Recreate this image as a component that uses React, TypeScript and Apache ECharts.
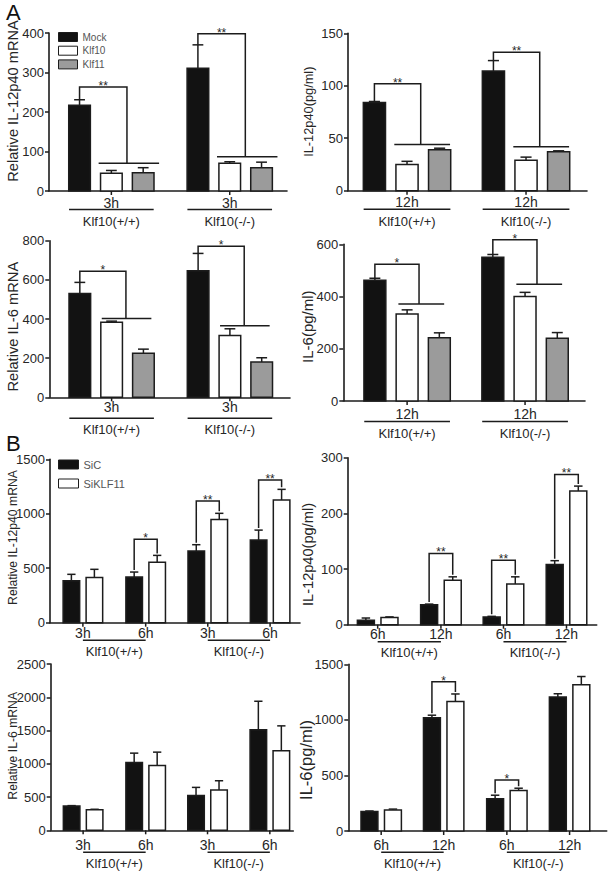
import { useEffect, useRef } from 'react';
import * as echarts from 'echarts';

// ---------------- Panel A : Mock / Klf10 / Klf11 ----------------
const aConditions = ['Mock', 'Klf10', 'Klf11'];
const genotypes = ['Klf10(+/+)', 'Klf10(-/-)'];

const a1Times = ['3h', '3h'];
const a1Mock = [217, 311];
const a1MockErr = [14, 59];
const a1Klf10 = [45, 70];
const a1Klf10Err = [7, 4];
const a1Klf11 = [46, 59];
const a1Klf11Err = [13, 14];
const a1BracketTop = [263, 398];
const a1BracketLow = [70, 87];
const a1Stars = ['**', '**'];

const a2Times = ['12h', '12h'];
const a2Mock = [84, 114];
const a2MockErr = [1, 10];
const a2Klf10 = [25, 29];
const a2Klf10Err = [3, 3];
const a2Klf11 = [39, 37];
const a2Klf11Err = [1.5, 1];
const a2BracketTop = [102, 132];
const a2BracketLow = [44, 42];
const a2Stars = ['**', '**'];

const a3Times = ['3h', '3h'];
const a3Mock = [530, 646];
const a3MockErr = [57, 89];
const a3Klf10 = [383, 316];
const a3Klf10Err = [6, 34];
const a3Klf11 = [225, 180];
const a3Klf11Err = [21, 22];
const a3BracketTop = [644, 772];
const a3BracketLow = [403, 365];
const a3Stars = ['*', '*'];

const a4Times = ['12h', '12h'];
const a4Mock = [462, 550];
const a4MockErr = [8, 11];
const a4Klf10 = [333, 400];
const a4Klf10Err = [16, 16];
const a4Klf11 = [242, 240];
const a4Klf11Err = [19, 22];
const a4BracketTop = [524, 617];
const a4BracketLow = [371, 447];
const a4Stars = ['*', '*'];

// ---------------- Panel B : SiC / SiKLF11 ----------------
const bConditions = ['SiC', 'SiKLF11'];

const b1Times = ['3h', '6h', '3h', '6h'];
const b1SiC = [385, 419, 658, 759];
const b1SiCErr = [59, 46, 58, 91];
const b1SiKLF11 = [416, 554, 948, 1126];
const b1SiKLF11Err = [74, 64, 56, 98];
const b1BracketGroups = [1, 2, 3];
const b1BracketTop = [765, 1117, 1309];
const b1Stars = ['*', '**', '**'];

const b2Times = ['6h', '12h', '6h', '12h'];
const b2SiC = [8, 36, 14, 108];
const b2SiCErr = [4, 1, 1, 7];
const b2SiKLF11 = [13, 80, 73, 240];
const b2SiKLF11Err = [1, 6, 13, 9];
const b2BracketGroups = [1, 2, 3];
const b2BracketTop = [128, 116, 270];
const b2Stars = ['**', '**', '**'];

const b3Times = ['3h', '6h', '3h', '6h'];
const b3SiC = [365, 1020, 525, 1510];
const b3SiCErr = [6, 140, 120, 430];
const b3SiKLF11 = [308, 975, 605, 1195];
const b3SiKLF11Err = [8, 200, 140, 375];
const b3BracketGroups: number[] = [];
const b3BracketTop: number[] = [];
const b3Stars: string[] = [];

const b4Times = ['6h', '12h', '6h', '12h'];
const b4SiC = [175, 1020, 290, 1205];
const b4SiCErr = [5, 22, 32, 30];
const b4SiKLF11 = [190, 1165, 365, 1315];
const b4SiKLF11Err = [7, 68, 20, 75];
const b4BracketGroups = [1, 2];
const b4BracketTop = [1343, 459];
const b4Stars = ['*', '*'];

// ---------------- styling ----------------
const FONT = 'Liberation Sans';
const INK = '#1c1c1c';
const TEXT = '#262626';
const FILL: Record<string, string> = {
  Mock: '#121212',
  Klf10: '#ffffff',
  Klf11: '#9b9b9b',
  SiC: '#121212',
  SiKLF11: '#ffffff',
};

type SeriesDef = { name: string; mean: number[]; err: number[] };
type PanelDef = {
  kind: 'A' | 'B';
  grid: { left: number; top: number; width: number; height: number };
  xMax: number;
  centers: number[];
  yMax: number;
  yInterval: number;
  yName: string;
  namePos: number[];
  nameSize: number;
  series: SeriesDef[];
  times: string[];
  bracketGroups: number[];
  bracketTop: number[];
  bracketLow: number[];
  stars: string[];
  rightLeg: number;
  lowRange: number[];
  lab: { time: number; line: number; geno: number };
};

const panels: PanelDef[] = [
  {
    kind: 'A',
    grid: { left: 49, top: 33, width: 238, height: 158 },
    xMax: 7.48, centers: [1.96, 5.68],
    yMax: 400, yInterval: 100, yName: 'Relative IL-12p40 mRNA', namePos: [13, 101], nameSize: 14.6,
    series: [
      { name: aConditions[0], mean: a1Mock, err: a1MockErr },
      { name: aConditions[1], mean: a1Klf10, err: a1Klf10Err },
      { name: aConditions[2], mean: a1Klf11, err: a1Klf11Err },
    ],
    times: a1Times, bracketGroups: [0, 1], bracketTop: a1BracketTop, bracketLow: a1BracketLow, stars: a1Stars,
    rightLeg: 0.49, lowRange: [-0.4, 1.5],
    lab: { time: 11.5, line: 18.5, geno: 30.5 },
  },
  {
    kind: 'A',
    grid: { left: 348, top: 33.3, width: 239, height: 157.4 },
    xMax: 7.33, centers: [1.81, 5.46],
    yMax: 150, yInterval: 50, yName: 'IL-12p40(pg/ml)', namePos: [308, 111.7], nameSize: 12.8,
    series: [
      { name: aConditions[0], mean: a2Mock, err: a2MockErr },
      { name: aConditions[1], mean: a2Klf10, err: a2Klf10Err },
      { name: aConditions[2], mean: a2Klf11, err: a2Klf11Err },
    ],
    times: a2Times, bracketGroups: [0, 1], bracketTop: a2BracketTop, bracketLow: a2BracketLow, stars: a2Stars,
    rightLeg: 0.42, lowRange: [-0.39, 1.32],
    lab: { time: 11, line: 18.5, geno: 31 },
  },
  {
    kind: 'A',
    grid: { left: 49.3, top: 240.7, width: 240.7, height: 156.6 },
    xMax: 7.57, centers: [1.96, 5.68],
    yMax: 800, yInterval: 200, yName: 'Relative IL-6 mRNA', namePos: [13.3, 326.7], nameSize: 14.7,
    series: [
      { name: aConditions[0], mean: a3Mock, err: a3MockErr },
      { name: aConditions[1], mean: a3Klf10, err: a3Klf10Err },
      { name: aConditions[2], mean: a3Klf11, err: a3Klf11Err },
    ],
    times: a3Times, bracketGroups: [0, 1], bracketTop: a3BracketTop, bracketLow: a3BracketLow, stars: a3Stars,
    rightLeg: 0.45, lowRange: [-0.31, 1.25],
    lab: { time: 10, line: 21, geno: 32 },
  },
  {
    kind: 'A',
    grid: { left: 343.3, top: 244.3, width: 241.7, height: 156.7 },
    xMax: 7.5, centers: [1.98, 5.64],
    yMax: 600, yInterval: 200, yName: 'IL-6(pg/ml)', namePos: [307.5, 326.7], nameSize: 15,
    series: [
      { name: aConditions[0], mean: a4Mock, err: a4MockErr },
      { name: aConditions[1], mean: a4Klf10, err: a4Klf10Err },
      { name: aConditions[2], mean: a4Klf11, err: a4Klf11Err },
    ],
    times: a4Times, bracketGroups: [0, 1], bracketTop: a4BracketTop, bracketLow: a4BracketLow, stars: a4Stars,
    rightLeg: 0.37, lowRange: [-0.27, 1.15],
    lab: { time: 12.5, line: 20.5, geno: 32 },
  },
  {
    kind: 'B',
    grid: { left: 50, top: 459.3, width: 250, height: 163.4 },
    xMax: 10.87, centers: [1.43, 4.16, 6.86, 9.57],
    yMax: 1500, yInterval: 500, yName: 'Relative IL-12p40 mRNA', namePos: [13.3, 537.5], nameSize: 12.2,
    series: [
      { name: bConditions[0], mean: b1SiC, err: b1SiCErr },
      { name: bConditions[1], mean: b1SiKLF11, err: b1SiKLF11Err },
    ],
    times: b1Times, bracketGroups: b1BracketGroups, bracketTop: b1BracketTop, bracketLow: [], stars: b1Stars,
    rightLeg: 0, lowRange: [0, 0],
    lab: { time: 10.5, line: 17.5, geno: 29 },
  },
  {
    kind: 'B',
    grid: { left: 347.7, top: 457.7, width: 249, height: 167 },
    xMax: 10.55, centers: [1.27, 3.95, 6.6, 9.27],
    yMax: 300, yInterval: 100, yName: 'IL-12p40(pg/ml)', namePos: [307.5, 554.5], nameSize: 14.6,
    series: [
      { name: bConditions[0], mean: b2SiC, err: b2SiCErr },
      { name: bConditions[1], mean: b2SiKLF11, err: b2SiKLF11Err },
    ],
    times: b2Times, bracketGroups: b2BracketGroups, bracketTop: b2BracketTop, bracketLow: [], stars: b2Stars,
    rightLeg: 0, lowRange: [0, 0],
    lab: { time: 9.5, line: 17, geno: 27.5 },
  },
  {
    kind: 'B',
    grid: { left: 50.7, top: 664, width: 242.6, height: 166.3 },
    xMax: 10.55, centers: [1.41, 4.13, 6.82, 9.53],
    yMax: 2500, yInterval: 500, yName: 'Relative IL-6 mRNA', namePos: [13.3, 745.8], nameSize: 12.2,
    series: [
      { name: bConditions[0], mean: b3SiC, err: b3SiCErr },
      { name: bConditions[1], mean: b3SiKLF11, err: b3SiKLF11Err },
    ],
    times: b3Times, bracketGroups: b3BracketGroups, bracketTop: b3BracketTop, bracketLow: [], stars: b3Stars,
    rightLeg: 0, lowRange: [0, 0],
    lab: { time: 15, line: 22, geno: 33 },
  },
  {
    kind: 'B',
    grid: { left: 348.3, top: 664.3, width: 258.4, height: 166.7 },
    xMax: 11, centers: [1.4, 4.06, 6.75, 9.42],
    yMax: 1500, yInterval: 500, yName: 'IL-6(pg/ml)', namePos: [306, 760], nameSize: 16.5,
    series: [
      { name: bConditions[0], mean: b4SiC, err: b4SiCErr },
      { name: bConditions[1], mean: b4SiKLF11, err: b4SiKLF11Err },
    ],
    times: b4Times, bracketGroups: b4BracketGroups, bracketTop: b4BracketTop, bracketLow: [], stars: b4Stars,
    rightLeg: 0, lowRange: [0, 0],
    lab: { time: 14, line: 21.3, geno: 32.3 },
  },
];

function txt(text: string, x: number, y: number, size: number, color = TEXT) {
  return {
    type: 'text',
    style: {
      text, x, y, fill: color, fontSize: size, fontFamily: FONT,
      align: 'center', verticalAlign: 'middle', textAlign: 'center', textVerticalAlign: 'middle',
    },
  };
}
function ln(x1: number, y1: number, x2: number, y2: number, w = 1.5) {
  return { type: 'line', shape: { x1, y1, x2, y2 }, style: { stroke: INK, lineWidth: w } };
}

function buildOption() {
  const grid: any[] = [];
  const xAxis: any[] = [];
  const yAxis: any[] = [];
  const series: any[] = [];
  const graphic: any[] = [
    { type: 'text', left: 6, top: 1, style: { text: 'A', fontSize: 22, fill: '#111', fontFamily: FONT } },
    { type: 'text', left: 6, top: 432, style: { text: 'B', fontSize: 22, fill: '#111', fontFamily: FONT } },
  ];

  panels.forEach((p, i) => {
    grid.push({ left: p.grid.left, top: p.grid.top, width: p.grid.width, height: p.grid.height });
    xAxis.push({
      type: 'value', gridIndex: i, min: 0, max: p.xMax,
      axisLine: { show: true, lineStyle: { color: INK, width: 1.6 } },
      axisTick: { show: false }, axisLabel: { show: false }, splitLine: { show: false },
    });
    yAxis.push({
      type: 'value', gridIndex: i, min: 0, max: p.yMax, interval: p.yInterval,
      axisLine: { show: true, lineStyle: { color: INK, width: 1.6 } },
      axisTick: { show: true, length: 4, lineStyle: { color: INK, width: 1.5 } },
      axisLabel: {
        fontSize: 13, color: TEXT, margin: 5, fontFamily: FONT,
        formatter: (v: number) => String(v),
      },
      splitLine: { show: false },
    });

    // y-axis title (rotated)
    graphic.push({
      type: 'text', x: p.namePos[0], y: p.namePos[1], rotation: Math.PI / 2, silent: true,
      style: {
        text: p.yName, fill: TEXT, fontSize: p.nameSize, fontFamily: FONT,
        align: 'center', verticalAlign: 'middle', textAlign: 'center', textVerticalAlign: 'middle',
      },
    });

    const offs = p.kind === 'A' ? [-1, 0, 1] : [-0.5, 0.5];
    const barW = p.kind === 'A' ? 0.68 : 0.72;

    p.series.forEach((s, si) => {
      const fill = FILL[s.name];
      series.push({
        type: 'custom', name: s.name, xAxisIndex: i, yAxisIndex: i, clip: false,
        itemStyle: { color: fill, borderColor: INK, borderWidth: 1.2 },
        data: s.mean.map((m, g) => [p.centers[g] + offs[si], m, s.err[g]]),
        renderItem: (_params: any, api: any) => {
          const x = api.value(0);
          const v = api.value(1);
          const e = api.value(2);
          const top = api.coord([x, v]);
          const base = api.coord([x, 0]);
          const et = api.coord([x, v + e]);
          const w = api.size([barW, 0])[0];
          const cap = w * 0.5;
          return {
            type: 'group',
            children: [
              ln(top[0], top[1], top[0], et[1]),
              ln(top[0] - cap / 2, et[1], top[0] + cap / 2, et[1]),
              {
                type: 'rect',
                shape: { x: top[0] - w / 2, y: top[1], width: w, height: base[1] - top[1] },
                style: { fill, stroke: INK, lineWidth: 1.5 },
              },
            ],
          };
        },
      });
    });

    // significance brackets
    if (p.bracketGroups.length) {
      series.push({
        type: 'custom', name: 'brackets' + i, xAxisIndex: i, yAxisIndex: i, clip: false, silent: true,
        data: p.bracketGroups.map((g, k) => [p.centers[g], p.bracketTop[k]]),
        renderItem: (params: any, api: any) => {
          const k = params.dataIndex;
          const g = p.bracketGroups[k];
          const c = api.value(0);
          const topV = api.value(1);
          if (p.kind === 'A') {
            const m = p.series[0];
            const xl = c - 1;
            const xr = c + p.rightLeg;
            const pTopL = api.coord([xl, topV]);
            const pTopR = api.coord([xr, topV]);
            const pMock = api.coord([xl, m.mean[g] + m.err[g]]);
            const pLow = api.coord([xr, p.bracketLow[k]]);
            const l0 = api.coord([c + p.lowRange[0], p.bracketLow[k]]);
            const l1 = api.coord([c + p.lowRange[1], p.bracketLow[k]]);
            return {
              type: 'group',
              children: [
                {
                  type: 'polyline',
                  shape: { points: [[pTopL[0], pMock[1]], pTopL, pTopR, pLow] },
                  style: { stroke: INK, lineWidth: 1.5, fill: 'none' },
                },
                ln(l0[0], l0[1], l1[0], l1[1]),
                txt(p.stars[k], (pTopL[0] + pTopR[0]) / 2, pTopL[1] - 1, 12),
              ],
            };
          }
          const a = p.series[0];
          const b = p.series[1];
          const xl = c - 0.5;
          const xr = c + 0.5;
          const pTopL = api.coord([xl, topV]);
          const pTopR = api.coord([xr, topV]);
          const pa = api.coord([xl, a.mean[g] + a.err[g]]);
          const pb = api.coord([xr, b.mean[g] + b.err[g]]);
          return {
            type: 'group',
            children: [
              {
                type: 'polyline',
                shape: { points: [[pTopL[0], pa[1] - 2], pTopL, pTopR, [pTopR[0], pb[1] - 2]] },
                style: { stroke: INK, lineWidth: 1.5, fill: 'none' },
              },
              txt(p.stars[k], (pTopL[0] + pTopR[0]) / 2, pTopL[1] - 1, 12),
            ],
          };
        },
      });
    }

    // time labels with ticks
    series.push({
      type: 'custom', name: 'times' + i, xAxisIndex: i, yAxisIndex: i, clip: false, silent: true,
      data: p.centers.map((c) => [c, 0]),
      renderItem: (params: any, api: any) => {
        const pt = api.coord([api.value(0), 0]);
        return {
          type: 'group',
          children: [
            ln(pt[0], pt[1], pt[0], pt[1] + 4),
            txt(p.times[params.dataIndex], pt[0], pt[1] + p.lab.time, 14),
          ],
        };
      },
    });

    // genotype underline + label
    series.push({
      type: 'custom', name: 'geno' + i, xAxisIndex: i, yAxisIndex: i, clip: false, silent: true,
      data: genotypes.map((_, k) => {
        if (p.kind === 'A') return [p.centers[k], 0];
        return [(p.centers[2 * k] + p.centers[2 * k + 1]) / 2, 0];
      }),
      renderItem: (params: any, api: any) => {
        const k = params.dataIndex;
        let x0: number;
        let x1: number;
        if (p.kind === 'A') {
          x0 = p.centers[k] - 1.33;
          x1 = p.centers[k] + 1.33;
        } else {
          x0 = p.centers[2 * k];
          x1 = p.centers[2 * k + 1];
        }
        const a = api.coord([x0, 0]);
        const b = api.coord([x1, 0]);
        const mid = api.coord([api.value(0), 0]);
        return {
          type: 'group',
          children: [
            ln(a[0], a[1] + p.lab.line, b[0], b[1] + p.lab.line, 1.5),
            txt(genotypes[k], mid[0], mid[1] + p.lab.geno, 13),
          ],
        };
      },
    });
  });

  const legendTextA = { fontSize: 10, color: '#555', fontFamily: FONT, lineHeight: 9 };
  const legendTextB = { fontSize: 11, color: '#555', fontFamily: FONT, lineHeight: 9 };

  return {
    animation: false,
    backgroundColor: '#fff',
    textStyle: { fontFamily: FONT },
    grid, xAxis, yAxis, series, graphic,
    legend: [
      {
        data: aConditions.map((n) => ({ name: n, itemStyle: { color: FILL[n], borderColor: INK, borderWidth: 1 } })),
        orient: 'vertical', left: 58, top: 32, padding: 0, icon: 'rect',
        itemWidth: 19, itemHeight: 9, itemGap: 3.7, selectedMode: false, textStyle: legendTextA,
      },
      {
        data: bConditions.map((n) => ({ name: n, itemStyle: { color: FILL[n], borderColor: INK, borderWidth: 1 } })),
        orient: 'vertical', left: 58, top: 459, padding: 0, icon: 'rect',
        itemWidth: 20, itemHeight: 9, itemGap: 8, selectedMode: false, textStyle: legendTextB,
      },
    ],
  };
}

export default function App() {
  const ref = useRef<HTMLDivElement>(null);
  useEffect(() => {
    if (!ref.current) return;
    const chart = echarts.init(ref.current, null, { renderer: 'svg' });
    chart.setOption(buildOption() as any);
    return () => chart.dispose();
  }, []);
  return (
    <div
      ref={ref}
      style={{ position: 'absolute', left: 0, top: 0, width: 608, height: 876, background: '#fff' }}
    />
  );
}
